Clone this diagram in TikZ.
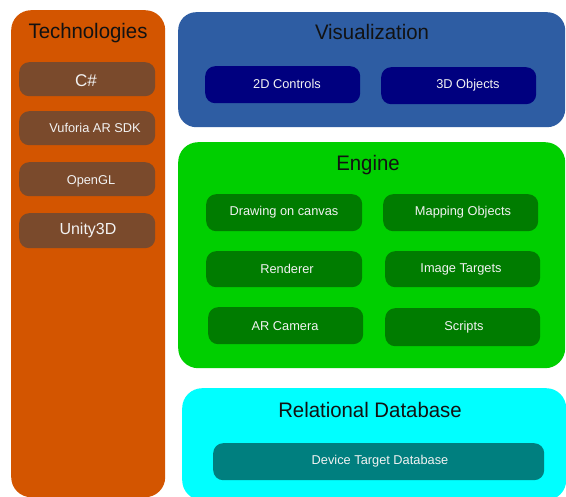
\documentclass[tikz,border=0pt]{standalone}
\usepackage{fontspec}
\setmainfont{Liberation Sans}
\definecolor{techorange}{HTML}{D35500}
\definecolor{techbrown}{HTML}{7A4A2C}
\definecolor{vizblue}{HTML}{2E5DA3}
\definecolor{viznavy}{HTML}{00007F}
\definecolor{enggreen}{HTML}{00CF00}
\definecolor{engdark}{HTML}{007C00}
\definecolor{dbcyan}{HTML}{00FFFF}
\definecolor{dbteal}{HTML}{007F7F}
\definecolor{titleink}{HTML}{121212}
\definecolor{itemink}{HTML}{F2F2F2}
\tikzset{
  panel/.style={anchor=north west, draw=none, rounded corners=20pt, inner sep=0pt},
  item/.style={anchor=north west, draw=none, rounded corners=10pt, inner sep=0pt},
  paneltitle/.style={text=titleink, font=\fontsize{21}{23}\selectfont, xscale=0.97, inner sep=0pt},
  itemtext/.style={text=itemink, font=\fontsize{12.8}{14}\selectfont, inner sep=0pt},
}
\begin{document}
\begin{tikzpicture}[x=1pt, y=-1pt]
\useasboundingbox (0,0) rectangle (566,497);
\fill[white] (0,0) rectangle (566,497);

% Technologies column
\node[panel, fill=techorange, minimum width=154pt, minimum height=487pt] (tech) at (11,10) {};
\node[paneltitle] (techT) at (88,33) {Technologies};
\node[item, fill=techbrown, minimum width=136pt, minimum height=34pt] (csharp) at (19,62) {};
\node[item, fill=techbrown, minimum width=136pt, minimum height=34pt] (vuf) at (19,111) {};
\node[item, fill=techbrown, minimum width=136pt, minimum height=34pt] (ogl) at (19,162) {};
\node[item, fill=techbrown, minimum width=136pt, minimum height=35pt] (unity) at (19,213) {};
\node[itemtext, font=\fontsize{17}{19}\selectfont] (csharpT) at (86,81) {C\#};
\node[itemtext, font=\fontsize{12.8}{14}\selectfont] (vufT) at (95,128) {Vuforia AR SDK};
\node[itemtext, font=\fontsize{12.8}{14}\selectfont] (oglT) at (91,181) {OpenGL};
\node[itemtext, font=\fontsize{16}{18}\selectfont] (unityT) at (88,230) {Unity3D};

% Visualization layer
\node[panel, fill=vizblue, rounded corners=18pt, minimum width=387pt, minimum height=115pt] (viz) at (178,12) {};
\node[paneltitle] (vizT) at (372,32) {Visualization};
\node[item, fill=viznavy, minimum width=155pt, minimum height=37pt] (c2d) at (205,66) {};
\node[item, fill=viznavy, minimum width=155pt, minimum height=37pt] (o3d) at (381,67) {};
\node[itemtext] (c2dT) at (287,84) {2D Controls};
\node[itemtext] (o3dT) at (468,85) {3D Objects};

% Engine layer
\node[panel, fill=enggreen, minimum width=387pt, minimum height=226pt] (eng) at (178,142) {};
\node[paneltitle] (engT) at (368,165) {Engine};
\node[item, fill=engdark, minimum width=156pt, minimum height=37pt] (draw) at (206,194) {};
\node[item, fill=engdark, minimum width=155pt, minimum height=37pt] (map) at (383,194) {};
\node[item, fill=engdark, minimum width=156pt, minimum height=36pt] (rend) at (206,251) {};
\node[item, fill=engdark, minimum width=155pt, minimum height=36pt] (img) at (385,251) {};
\node[item, fill=engdark, minimum width=155pt, minimum height=37pt] (cam) at (208,307) {};
\node[item, fill=engdark, minimum width=155pt, minimum height=38pt] (scr) at (385,308) {};
\node[itemtext] (drawT) at (284,212) {Drawing on canvas};
\node[itemtext] (mapT) at (463,212) {Mapping Objects};
\node[itemtext] (rendT) at (287,269) {Renderer};
\node[itemtext] (imgT) at (461,269) {Image Targets};
\node[itemtext] (camT) at (285,326) {AR Camera};
\node[itemtext] (scrT) at (464,327) {Scripts};

% Relational database layer
\node[panel, fill=dbcyan, minimum width=384pt, minimum height=112pt] (db) at (182,388) {};
\node[paneltitle] (dbT) at (370,410) {Relational Database};
\node[item, fill=dbteal, minimum width=331pt, minimum height=37pt] (dev) at (213,443) {};
\node[itemtext] (devT) at (380,461) {Device Target Database};
\end{tikzpicture}
\end{document}
